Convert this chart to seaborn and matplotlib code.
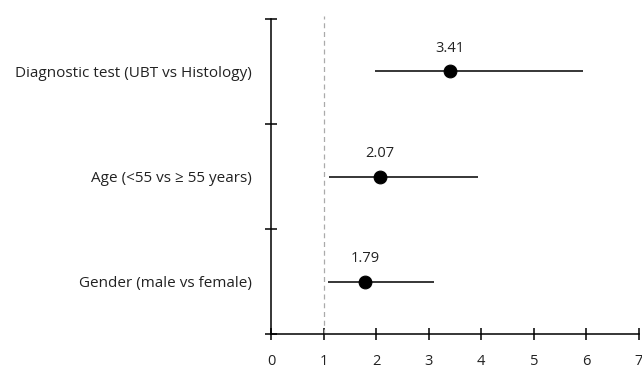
import numpy as np
import pandas as pd
import matplotlib
matplotlib.use("Agg")
import matplotlib.pyplot as plt
import seaborn as sns

# 数据
factors = ["Diagnostic test (UBT vs Histology)",
           "Age (<55 vs \u2265 55 years)",
           "Gender (male vs female)"]
odds_ratio = [3.41, 2.07, 1.79]
ci_low = [1.98, 1.10, 1.08]
ci_high = [5.93, 3.93, 3.10]

sns.set_style("white")
plt.rcParams["font.family"] = ["Open Sans", "DejaVu Sans"]

df = pd.DataFrame({"factor": factors, "or": odds_ratio,
                   "lo": ci_low, "hi": ci_high})
df["ypos"] = [2.5, 1.5, 0.5]

fig = plt.figure(figsize=(6.42, 3.71), dpi=100)
ax = fig.add_axes([0.4221, 0.0997, 0.5732, 0.8491])

# 置信区间
ax.hlines(df["ypos"], df["lo"], df["hi"], color="black", lw=1.1, zorder=2)
sns.scatterplot(data=df, x="or", y="ypos", ax=ax, color="black", s=85,
                edgecolor="black", zorder=3, legend=False)
for _, r in df.iterrows():
    ax.text(r["or"], r["ypos"] + 0.15, f"{r['or']:.2f}", ha="center",
            va="bottom", fontsize=10.5, color="#222222")

# 参考线
ax.axvline(1, color="#aaaaaa", lw=0.9, ls=(0, (4, 3)), ymax=1.01, clip_on=False)

ax.set_xlim(0, 7)
ax.set_ylim(0, 3)
ax.set_xticks(range(8))
ax.set_yticks([0, 1, 2, 3])
ax.set_yticklabels([])
ax.set_yticks(df["ypos"], minor=True)
ax.set_yticklabels(df["factor"], minor=True)
ax.tick_params(axis="y", which="minor", left=True, length=0, pad=14,
               labelsize=11, labelcolor="#222222")
ax.tick_params(axis="y", which="major", left=True, direction="inout",
               length=9, width=1.1, color="black")
ax.tick_params(axis="x", bottom=True, direction="inout", length=9, width=1.1,
               color="black", pad=10, labelsize=10.5, labelcolor="#222222")
for s in ["top", "right"]:
    ax.spines[s].set_visible(False)
for s in ["left", "bottom"]:
    ax.spines[s].set_linewidth(1.1)
    ax.spines[s].set_color("black")
ax.set_xlabel("")
ax.set_ylabel("")

fig.savefig("out.png", dpi=100)
